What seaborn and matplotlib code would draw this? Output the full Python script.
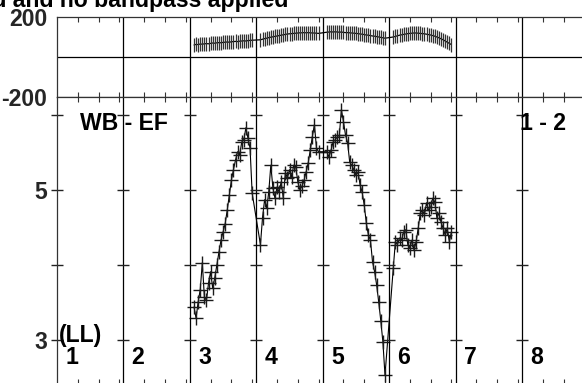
import pandas as pd
import seaborn as sns
from matplotlib import pyplot as plt
from matplotlib import transforms

# POSSM style cross power spectrum, baseline WB - EF, LL
# 8 IFs of 64 channels, only IFs 3-6 have data
IF_LABELS = ["1", "2", "3", "4", "5", "6", "7", "8"]
N_CHAN = 64
CHANNELS = [4, 6, 8, 10, 12, 14, 16, 18, 20, 22, 24, 26, 28, 30, 32,
            34, 36, 38, 40, 42, 44, 46, 48, 50, 52, 54, 56, 58, 60]

AMP_IF3 = [3.44, 3.29, 3.51, 3.67, 4.03, 3.57, 3.53, 3.76, 3.91, 3.69,
           3.83, 4.00, 4.17, 4.33, 4.44, 4.55, 4.73, 4.93, 5.13, 5.27,
           5.40, 5.51, 5.47, 5.64, 5.67, 5.83, 5.69, 5.56, 4.96]
AMP_IF4 = [4.27, 4.63, 4.87, 4.76, 4.97, 5.33, 5.03, 4.89, 5.04, 4.97,
           5.11, 4.89, 5.23, 5.16, 5.27, 5.17, 5.33, 5.31, 5.11, 5.00,
           5.05, 5.13, 5.24, 5.36, 5.53, 5.71, 5.87, 5.56, 5.51]
AMP_IF5 = [5.51, 5.44, 5.53, 5.64, 5.67, 5.71, 5.73, 6.07, 5.91, 5.73,
           5.63, 5.37, 5.33, 5.27, 5.20, 5.24, 5.07, 4.97, 4.80, 4.56,
           4.40, 4.33, 4.04, 3.91, 3.73, 3.50, 3.25, 2.97, 2.53]
AMP_IF6 = [3.96, 4.31, 4.27, 4.36, 4.33, 4.44, 4.47, 4.27, 4.23, 4.33,
           4.20, 4.31, 4.49, 4.69, 4.73, 4.67, 4.83, 4.73, 4.77, 4.89,
           4.84, 4.63, 4.69, 4.57, 4.49, 4.40, 4.49, 4.31, 4.44]

PHASE_IF3 = [60, 63, 62, 65, 64, 66, 67, 66, 68, 70, 69, 71, 72, 71, 73,
             74, 75, 74, 76, 77, 78, 77, 79, 80, 81, 80, 82, 83, 84]
PHASE_IF4 = [86, 89, 92, 94, 97, 99, 101, 103, 105, 107, 109, 111, 113, 115, 116,
             117, 118, 119, 120, 121, 121, 122, 121, 122, 121, 120, 120, 119, 118]
PHASE_IF5 = [124, 125, 126, 125, 126, 125, 124, 125, 123, 122, 122, 121, 120, 119, 118,
             117, 115, 114, 112, 110, 109, 107, 105, 104, 102, 100, 98, 96, 94]
PHASE_IF6 = [100, 103, 106, 109, 111, 113, 115, 117, 118, 119, 120, 120, 119, 118, 117,
             116, 114, 112, 110, 107, 104, 100, 96, 91, 86, 80, 74, 68, 62]

AMP_TICKS = [3, 4, 5, 6]
AMP_TICK_LABELS = ["3", "", "5", ""]
PHASE_TICKS = [-200, 200]
CHAN_TICKS = [20, 40, 60]

rows = []
for if_idx, amps, phases in [(2, AMP_IF3, PHASE_IF3), (3, AMP_IF4, PHASE_IF4),
                             (4, AMP_IF5, PHASE_IF5), (5, AMP_IF6, PHASE_IF6)]:
    for ch, a, p in zip(CHANNELS, amps, phases):
        rows.append({"x": if_idx * N_CHAN + ch, "amp": a, "phase": p})
df = pd.DataFrame(rows)

sns.set_theme(style="white")
plt.rcParams["font.family"] = ["Liberation Sans", "DejaVu Sans"]
plt.rcParams["font.weight"] = "bold"
FS = 16.6

W, H = 582, 383
fig = plt.figure(figsize=(W / 100, H / 100), dpi=100)
px_per_chan = (522 - 57) / 7 / N_CHAN
left = 57 / W
width = len(IF_LABELS) * N_CHAN * px_per_chan / W
ax_ph = fig.add_axes([left, (H - 97) / H, width, 80 / H])
ax_amp = fig.add_axes([left, -1 / H, width, 287 / H])

sns.lineplot(data=df, x="x", y="phase", ax=ax_ph, color="black", lw=0.9,
             marker="|", markersize=9.5, markeredgewidth=0.9,
             markeredgecolor="#333333", estimator=None, sort=False)
sns.lineplot(data=df, x="x", y="amp", ax=ax_amp, color="black", lw=0.8,
             marker="+", markersize=9.5, markeredgewidth=1.0,
             markeredgecolor="#1a1a1a", estimator=None, sort=False)

xmax = len(IF_LABELS) * N_CHAN
chan_ticks = [k * N_CHAN + c for k in range(len(IF_LABELS)) for c in CHAN_TICKS]
for ax in (ax_ph, ax_amp):
    ax.set_xlim(0, xmax)
    ax.set_xticks(chan_ticks)
    ax.tick_params(axis="x", which="both", direction="in", length=3.5, width=0.8,
                   top=True, bottom=True, labelbottom=False, color="#333333")
    ax.tick_params(axis="y", length=0, pad=7, labelsize=FS)
    ax.set_xlabel("")
    ax.set_ylabel("")
    for s in ax.spines.values():
        s.set_color("#333333")
        s.set_linewidth(0.9)
    for k in range(1, len(IF_LABELS)):
        ax.axvline(k * N_CHAN, color="black", lw=0.9)

ax_ph.set_ylim(-200, 200)
ax_ph.set_yticks(PHASE_TICKS, labels=[str(t) for t in PHASE_TICKS])
ax_ph.axhline(0, color="black", lw=0.9)

ax_amp.set_ylim(2.413, 6.24)
ax_amp.set_yticks(AMP_TICKS, labels=AMP_TICK_LABELS)
for k in range(len(IF_LABELS)):
    ax_amp.plot([k * N_CHAN] * len(AMP_TICKS), AMP_TICKS, ls="none", marker="_",
                ms=8, mew=1.0, color="#222222", clip_on=False)

for lab in ax_ph.get_yticklabels() + ax_amp.get_yticklabels():
    lab.set_fontweight("bold")

bold = dict(fontsize=FS, fontweight="bold", color="black")
ax_amp.text(0.0433, 0.909, "WB - EF", transform=ax_amp.transAxes, va="center", **bold)
ax_amp.text(0.871, 0.909, "1 - 2", transform=ax_amp.transAxes, va="center", **bold)
ax_amp.text(0.004, 0.168, "(LL)", transform=ax_amp.transAxes, va="center", **bold)
trans = transforms.blended_transform_factory(ax_amp.transData, ax_amp.transAxes)
for k, lab in enumerate(IF_LABELS):
    ax_amp.text(k * N_CHAN + 8, 0.093, lab, transform=trans, va="center", **bold)

fig.text(288 / W, (H - 7) / H, "Calibrated and no bandpass applied",
         ha="right", va="baseline", **bold)

fig.savefig("out.png", dpi=100)
